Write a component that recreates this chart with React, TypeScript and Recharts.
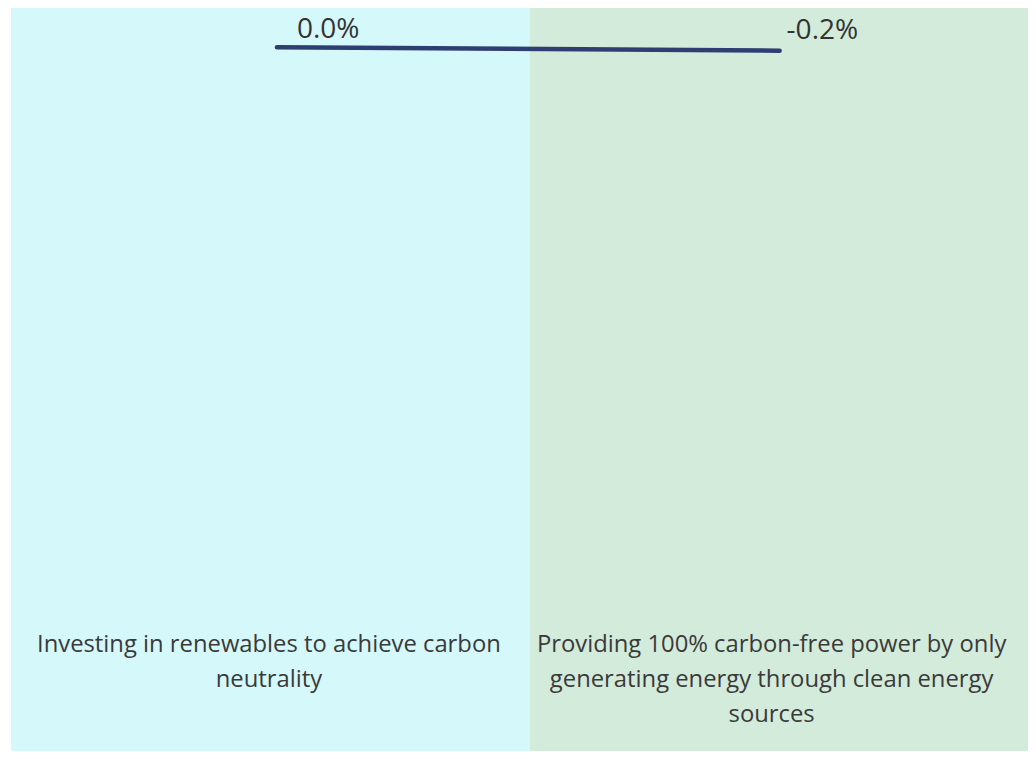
import { LineChart, Line, XAxis, YAxis, ReferenceArea, LabelList } from "recharts";

const categories = [
  "Investing in renewables to achieve carbon neutrality",
  "Providing 100% carbon-free power by only generating energy through clean energy sources",
];
const changeValues = [0.0, -0.2];

const panelColors = ["#D5F8FA", "#D3EBDA"];
const labelOffsets = [
  { dx: 20, dy: -9 },
  { dx: 7, dy: -12 },
];

const data = categories.map((name, i) => ({ pos: i, name, change: changeValues[i] }));

// x domain spans the two panels; points sit at 0 and 1
const X_MIN = -0.529;
const X_MID = 0.5025;
const X_MAX = 1.51;
const panels = [
  [X_MIN, X_MID],
  [X_MID, X_MAX],
];

const FONT = "'Open Sans', 'DejaVu Sans', sans-serif";
const TICK_SIZE = 23.8;
const WRAP_WIDTH = 495;

let ctx: CanvasRenderingContext2D | null = null;
const measure = (s: string) => {
  if (!ctx) ctx = document.createElement("canvas").getContext("2d");
  if (!ctx) return s.length * TICK_SIZE * 0.52;
  ctx.font = `${TICK_SIZE}px ${FONT}`;
  return ctx.measureText(s).width;
};

const wrap = (s: string) => {
  const lines: string[] = [];
  let cur = "";
  s.split(" ").forEach((w) => {
    const next = cur ? cur + " " + w : w;
    if (cur && measure(next) > WRAP_WIDTH) {
      lines.push(cur);
      cur = w;
    } else {
      cur = next;
    }
  });
  if (cur) lines.push(cur);
  return lines;
};

const CategoryTick = (props: any) => {
  const { x, y, payload } = props;
  const lines = wrap(categories[payload.value] || "");
  return (
    <text x={x - 8} y={y - 113} textAnchor="middle" fontSize={TICK_SIZE} fontFamily={FONT} fill="#3a3a3a">
      {lines.map((l, i) => (
        <tspan key={i} x={x - 8} dy={i === 0 ? 0 : 35}>
          {l}
        </tspan>
      ))}
    </text>
  );
};

const ValueLabel = (props: any) => {
  const { x, y, value, index } = props;
  const off = labelOffsets[index] || { dx: 5, dy: -10 };
  return (
    <text x={x + off.dx} y={y + off.dy} fontSize={28} fontFamily={FONT} fill="#333333" textAnchor="start">
      {Number(value).toFixed(1)}%
    </text>
  );
};

const App = () => {
  return (
    <div style={{ width: 1028, height: 743, overflow: "hidden" }}>
      <LineChart width={1028} height={752} data={data} margin={{ top: 0, right: 0, left: 3, bottom: 0 }}>
        <XAxis
          dataKey="pos"
          type="number"
          domain={[X_MIN, X_MAX]}
          allowDataOverflow
          ticks={[0, 1]}
          axisLine={false}
          tickLine={false}
          tickMargin={0}
          height={1}
          interval={0}
          tick={<CategoryTick />}
        />
        <YAxis hide domain={[-40, 2.2]} />
        {panels.map(([a, b], i) => (
          <ReferenceArea key={i} x1={a} x2={b} fill={panelColors[i]} fillOpacity={1} stroke="none" />
        ))}
        <Line
          dataKey="change"
          stroke="#2E3E72"
          strokeWidth={4.5}
          strokeLinecap="round"
          dot={false}
          activeDot={false}
          isAnimationActive={false}
        >
          <LabelList dataKey="change" content={<ValueLabel />} />
        </Line>
      </LineChart>
    </div>
  );
};

export default App;
